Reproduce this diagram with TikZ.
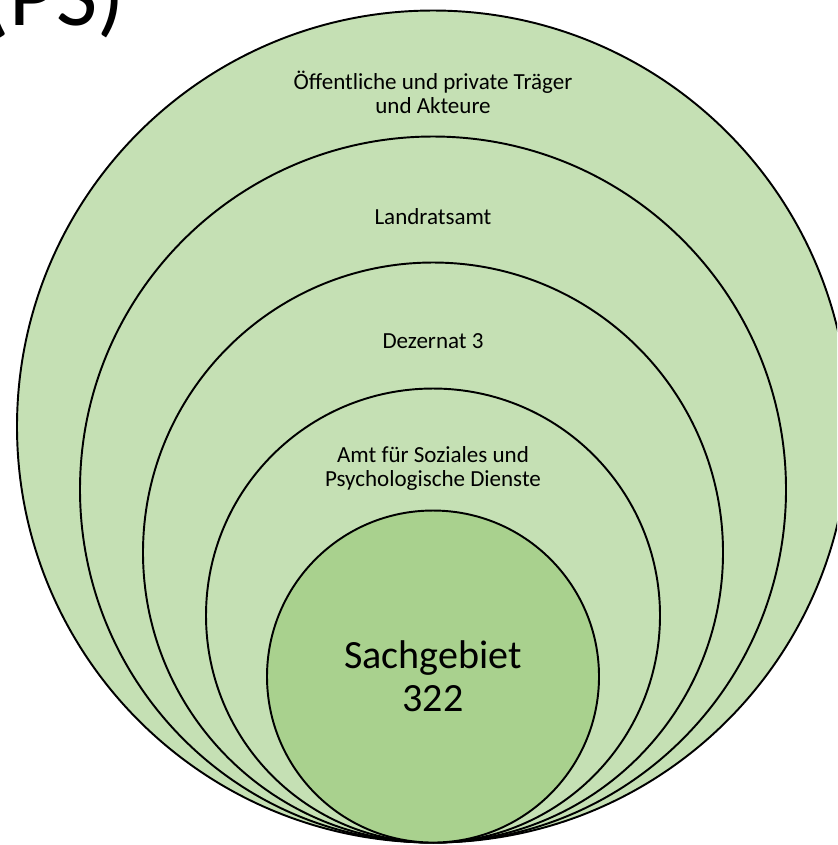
\documentclass[tikz,border=0pt]{standalone}
\usepackage{fontspec}
\setmainfont{Carlito}
\usepackage{tikz}
\definecolor{ringgreen}{RGB}{197,224,180}
\definecolor{coregreen}{RGB}{169,209,142}

\begin{document}
\begin{tikzpicture}[
  ring/.style={circle,draw,line width=1.1pt,fill=ringgreen,inner sep=0pt,anchor=south},
  ringtext/.style={align=center,font=\fontsize{13.1}{13.4}\selectfont}
]
\clip (0,0) rectangle (16.74,16.9);
\coordinate (base) at (8.66,0.03);

% Title, cut off at the top
\node[anchor=base east,inner sep=0pt,font=\fontsize{51}{58}\selectfont] (title) at (2.50,16.38) {(PS)};

% Rings, outermost first
\node[ring,minimum size=16.64cm] (traeger) at (base) {};
\node[ring,minimum size=14.12cm] (landrat) at (base) {};
\node[ring,minimum size=11.6cm] (dezernat) at (base) {};
\node[ring,minimum size=9.08cm] (amt) at (base) {};

% Core
\node[ring,fill=coregreen,minimum size=6.64cm,align=center,
  font=\fontsize{22.8}{24.4}\selectfont] (sachgebiet) at (base) {Sachgebiet\\322};

% Ring labels
\node[ringtext] (traegerlabel) at ([yshift=-1.66cm]traeger.north) {Öffentliche und private Träger\\und Akteure};
\node[ringtext] (landratlabel) at ([yshift=-1.62cm]landrat.north) {Landratsamt};
\node[ringtext] (dezernatlabel) at ([yshift=-1.60cm]dezernat.north) {Dezernat 3};
\node[ringtext] (amtlabel) at ([yshift=-1.62cm]amt.north) {Amt für Soziales und\\Psychologische Dienste};
\end{tikzpicture}
\end{document}
